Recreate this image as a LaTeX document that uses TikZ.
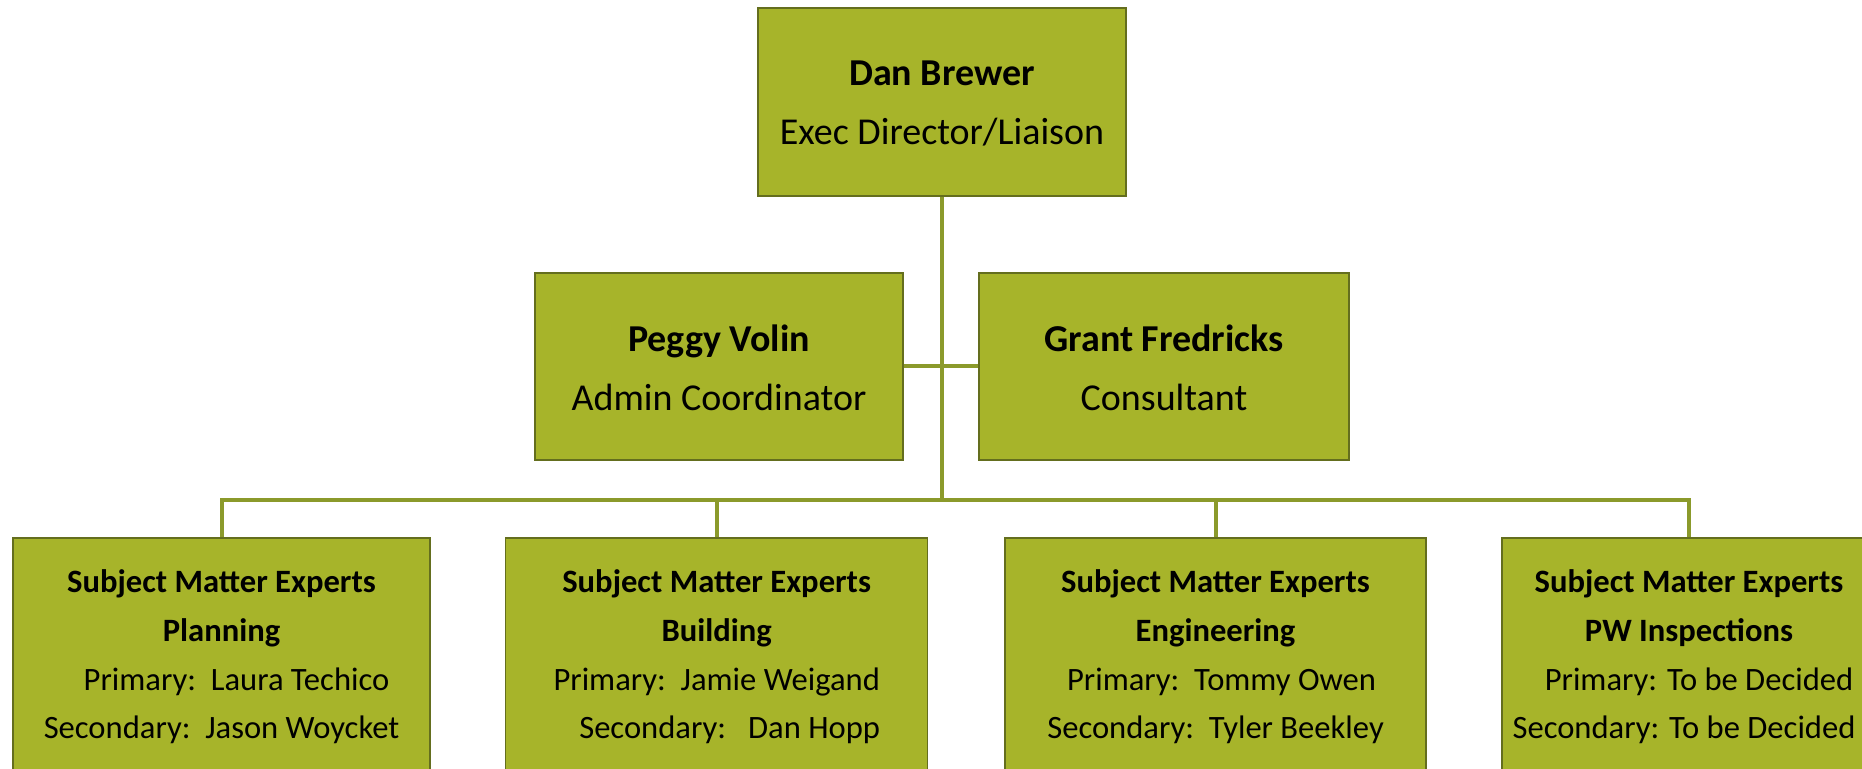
\documentclass[tikz,border=0pt]{standalone}
\usepackage{fontspec}
\setmainfont{Carlito}
\definecolor{boxfill}{HTML}{A7B42A}
\definecolor{boxline}{HTML}{646E1E}
\definecolor{conncol}{HTML}{8B9A2B}
\begin{document}
\begin{tikzpicture}[x=0.5pt,y=-0.5pt,
  box/.style={draw=boxline, line width=0.7pt, fill=boxfill, inner sep=0pt, anchor=center},
  conn/.style={draw=conncol, line width=2pt},
  toptext/.style={align=center, font=\fontsize{19}{29.5}\selectfont, inner sep=0pt},
  midtext/.style={align=center, font=\fontsize{19}{29.5}\selectfont, inner sep=0pt},
  smetext/.style={align=center, font=\fontsize{16.3}{24.3}\selectfont, inner sep=0pt}]
\useasboundingbox (0,0) rectangle (1862,769);
\clip (0,0) rectangle (1862,769);
% boxes
\node[box, minimum width=184pt, minimum height=94pt] (dan) at (942,102) {};
\node[box, minimum width=184pt, minimum height=93.5pt] (peggy) at (719,366.5) {};
\node[box, minimum width=185pt, minimum height=93.5pt] (grant) at (1164,366.5) {};
\node[box, minimum width=208.5pt, minimum height=146pt] (b1) at (221.5,684) {};
\node[box, minimum width=211pt, minimum height=146pt] (b2) at (716.7,684) {};
\node[box, minimum width=210.5pt, minimum height=146pt] (b3) at (1215.5,684) {};
\node[box, minimum width=187pt, minimum height=146pt] (b4) at (1689,684) {};
% texts
\node[toptext] (tdan) at (942,103) {\textbf{Dan Brewer}\\Exec Director/Liaison};
\node[midtext] (tpeggy) at (719,367.5) {\textbf{Peggy Volin}\\Admin Coordinator};
\node[midtext] (tgrant) at (1164,367.5) {\textbf{Grant Fredricks}\\Consultant};
\node[smetext] (t1) at (221.5,657) {\textbf{Subject Matter Experts}\\\textbf{Planning}\\\hspace*{15pt}Primary:\ \ Laura Techico\\Secondary:\ \ Jason Woycket};
\node[smetext] (t2) at (716.7,657) {\textbf{Subject Matter Experts}\\\textbf{Building}\\Primary:\ \ Jamie Weigand\\\hspace*{13pt}Secondary:\ \ \ Dan Hopp};
\node[smetext] (t3) at (1215.5,657) {\textbf{Subject Matter Experts}\\\textbf{Engineering}\\\hspace*{6pt}Primary:\ \ Tommy Owen\\Secondary:\ \ Tyler Beekley};
\node[smetext] (t4) at (1689,657) {\textbf{Subject Matter Experts}\\\textbf{PW Inspections}\\\hspace*{10pt}Primary: To be Decided\\Secondary: To be Decided\hspace*{5pt}};
% connectors
\coordinate (bus) at (942,500);
\draw[conn] (dan.south) -- (bus);
\draw[conn] (peggy.east) -- (grant.west);
\draw[conn] (b1.north) |- (bus) -| (b4.north);
\draw[conn] (b2.north) -- (b2.north |- bus);
\draw[conn] (b3.north) -- (b3.north |- bus);
\end{tikzpicture}
\end{document}
